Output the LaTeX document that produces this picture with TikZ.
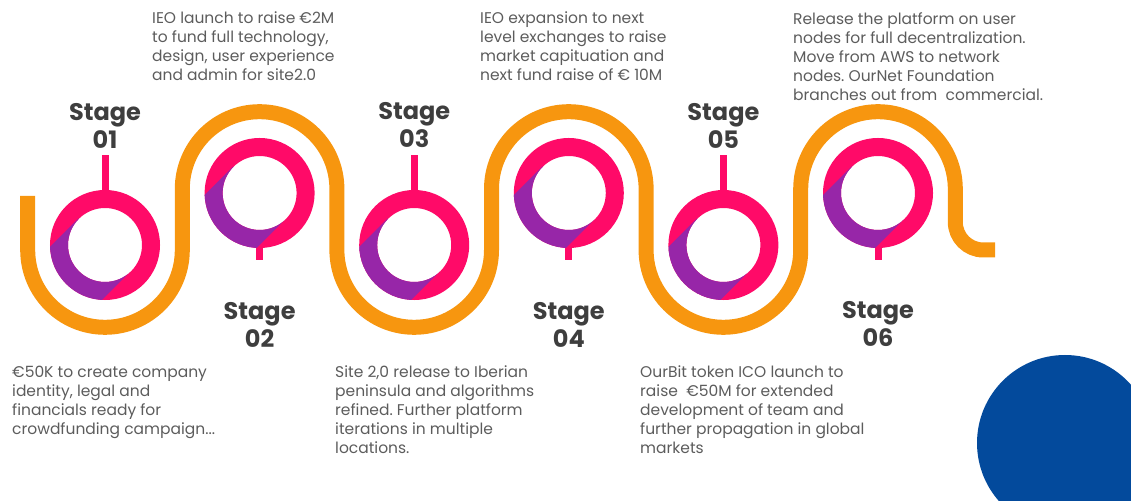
\documentclass[tikz,border=0pt]{standalone}
\usepackage{fontspec}
\setmainfont{Poppins}
\usepackage{tikz}
\usetikzlibrary{positioning,calc}
\frenchspacing
\definecolor{wavecol}{HTML}{F7960F}
\definecolor{ringcol}{HTML}{FF0A68}
\definecolor{ringpurple}{HTML}{9726A8}
\definecolor{dotblue}{HTML}{034A9C}
\definecolor{stagegray}{HTML}{3E3E3E}
\definecolor{descgray}{HTML}{5C5C5C}

\begin{document}
\begin{tikzpicture}[x=1pt,y=1pt,
  wave/.style={line width=15pt,wavecol},
  ring/.style={line width=18pt,ringcol},
  stem/.style={line width=7pt,ringcol},
  stagelbl/.style={align=center,text=stagegray,font=\fontsize{24}{28}\selectfont\bfseries},
  desc/.style={anchor=north west,inner sep=0pt,align=left,text=descgray,font=\fontsize{15.5}{19}\selectfont}]
\clip (0,0) rectangle (1131,500);
\fill[dotblue] (1065,57) circle(88);
\draw[wave] (27.7,304) -- (27.7,250)
  \foreach \i in {1,2}{ arc[start angle=180,end angle=360,radius=77.3] -- ++(0,61)
    arc[start angle=180,end angle=0,radius=77.3] -- ++(0,-61) }
  arc[start angle=180,end angle=360,radius=77.3] -- ++(0,61)
  arc[start angle=180,end angle=0,radius=77.3] -- ++(0,-33)
  arc[start angle=180,end angle=270,radius=28] -- (995,250);
\foreach \n/\x/\y in {1/105/255,2/259.6/307,3/414.2/255,4/568.8/307,5/723.4/255,6/878/307}
  \coordinate (c\n) at (\x,\y);
\foreach \n in {1,3,5}{
  \draw[stem] (c\n) ++(0,50) -- ++(0,40);
  \node[stagelbl] (s\n) at ($(c\n)+(0,119.5)$) {Stage\\0\n};
}
\foreach \n in {2,4,6}{
  \draw[stem] (c\n) ++(0,-50) -- ++(0,-17);
  \node[stagelbl] (s\n) at ($(c\n)+(0,-131.5)$) {Stage\\0\n};
}
\foreach \n in {1,...,6}{
  \draw[ring] (c\n) circle(46);
  \begin{scope}
    \clip (c\n) ++(-26.5,26.5) -- ++(52.5,-52.5) -- ++(-50,-50) -- ++(-52.5,52.5) -- cycle;
    \draw[ring,ringpurple] (c\n) circle(46);
  \end{scope}
}
\node[desc] (d1) at (12,134) {€50K to create company\\identity, legal and\\financials ready for\\crowdfunding campaign...};
\node[desc] (d2) at (152,488) {IEO launch to raise €2M\\to fund full technology,\\design, user experience\\and admin for site2.0};
\node[desc] (d3) at (335,134) {Site 2,0 release to Iberian\\peninsula and algorithms\\refined. Further platform\\iterations in multiple\\locations.};
\node[desc] (d4) at (480,488) {IEO expansion to next\\level exchanges to raise\\market capituation and\\next fund raise of € 10M};
\node[desc] (d5) at (640,134) {OurBit token ICO launch to\\raise \ €50M for extended\\development of team and\\further propagation in global\\markets};
\node[desc] (d6) at (793,488) {Release the platform on user\\nodes for full decentralization.\\Move from AWS to network\\nodes. OurNet Foundation\\branches out from \ commercial.};
\end{tikzpicture}
\end{document}
